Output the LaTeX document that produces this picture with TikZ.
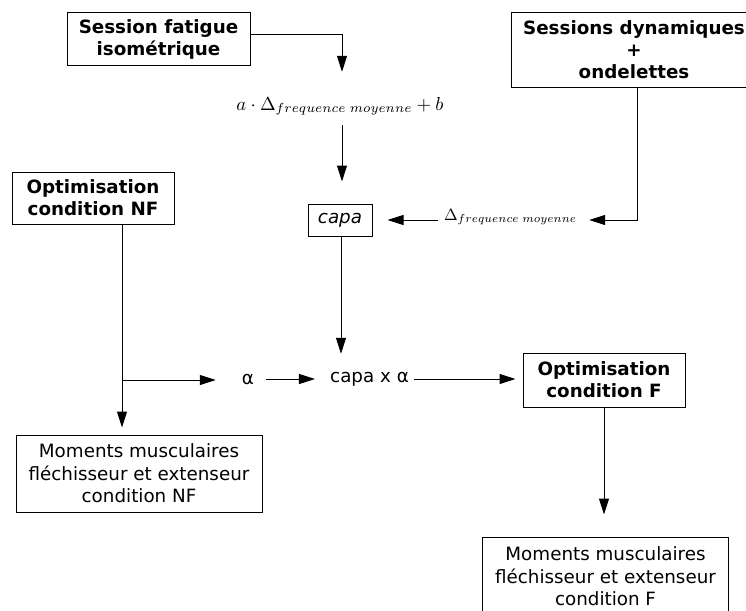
\documentclass[tikz,border=0pt]{standalone}
\usepackage{graphicx}
\usepackage{fontspec}
\setmainfont{DejaVu Sans}
\usetikzlibrary{arrows.meta}
\tikzset{
  x=1pt, y=-1pt,
  box/.style={draw, line width=1pt, inner sep=0pt, align=center, font=\fontsize{18.3}{22.5}\selectfont},
  hbox/.style={box, font=\bfseries\fontsize{18.3}{22}\selectfont},
  lbl/.style={inner sep=0pt, font=\fontsize{18.3}{22}\selectfont},
  link/.style={line width=1pt},
  arr/.style={link, -{Triangle[length=16pt,width=10pt]}},
}
\begin{document}
\begin{tikzpicture}
\useasboundingbox[fill=white] (0,0) rectangle (746,610);
% boxes
\node[hbox, minimum width=183pt, minimum height=52pt] (sf) at (158.5,39) {Session fatigue\\isométrique};
\node[hbox, minimum width=246pt, minimum height=74pt] (sd) at (634,50) {Sessions dynamiques\\+\\ondelettes};
\node[hbox, minimum width=162pt, minimum height=52pt] (onf) at (93,198) {Optimisation\\condition NF};
\node[hbox, minimum width=162pt, minimum height=54pt] (of) at (604,380) {Optimisation\\condition F};
\node[box, minimum width=64pt, minimum height=32pt, font=\itshape\fontsize{18.3}{22}\selectfont] (capa) at (340,220) {capa};
\node[box, minimum width=246pt, minimum height=77pt] (mnf) at (139,473.5) {Moments musculaires\\fléchisseur et extenseur\\condition NF};
\node[box, draw=none, minimum width=245pt, minimum height=77pt] (mf) at (605.5,576.5) {Moments musculaires\\fléchisseur et extenseur\\condition F};
\draw[link] ([yshift=-10pt]mf.south west) |- (mf.north east) -- ([yshift=-10pt]mf.south east);
% labels
\node[inner sep=0pt, anchor=base, text height=38pt, text depth=15pt, font=\normalsize] (fm) at (340,110) {\scalebox{1.88}{$a\cdot\Delta_{frequence\;moyenne}+b$}};
\node[inner sep=0pt, anchor=base, font=\normalsize] (dl) at (510.5,220) {\scalebox{1.64}{$\Delta_{frequence\;moyenne}$}};
\node[lbl] (alpha) at (248,379) {α};
\node[lbl] (cxa) at (369.5,379) {capa x α};
\coordinate (j1) at (122,380);
% connectors
\draw[arr] ([yshift=4pt]sf.east) -| ([xshift=2pt]fm.north);
\draw[arr, shorten >=22pt] ([xshift=2pt]fm.south) -- ([xshift=2pt]fm.south |- capa.north);
\draw[arr, shorten >=12pt] ([xshift=3pt]sd.south) |- (dl.base east);
\draw[arr, shorten <=6pt, shorten >=15pt] (dl.base west) -- (capa.east |- dl.base west);
\draw[arr, shorten >=18pt] ([xshift=1pt]capa.south) -- ([xshift=1pt]capa.south |- cxa.north);
\draw[link] (onf.south -| j1) -- (j1);
\draw[arr, shorten >=7pt] (j1) -- (j1 |- mnf.north);
\draw[arr, shorten >=26pt] (j1) -- (j1 -| alpha.west);
\draw[arr, shorten <=12pt, shorten >=15pt] (alpha.east) -- (cxa.west);
\draw[arr, shorten <=5pt, shorten >=7pt] (cxa.east) -- (cxa.east -| of.west);
\draw[arr, shorten >=23pt] (of.south) -- (of.south |- mf.north);
\end{tikzpicture}
\end{document}
